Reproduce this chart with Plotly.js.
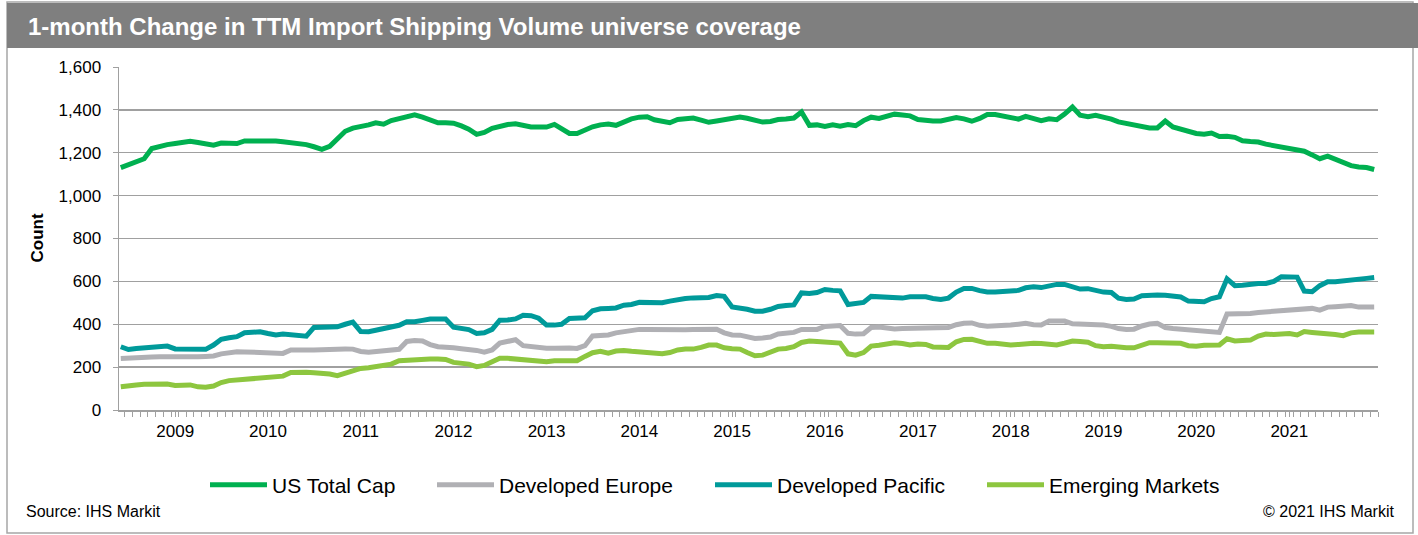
<!DOCTYPE html>
<html>
<head>
<meta charset="utf-8">
<script src="https://cdn.plot.ly/plotly-3.0.1.min.js"></script>
<style>html,body{margin:0;padding:0;background:#fff;}#chart{width:1418px;height:535px;}</style>
</head>
<body>
<div id="chart"></div>
<script>
// ---- data (monthly, Jun 2008 onward) ----
var startYear = 2008, startMonth = 6;
var seriesNames = ["US Total Cap", "Developed Europe", "Developed Pacific", "Emerging Markets"];
var seriesColors = ["#00b050", "#b0b0b4", "#009a9a", "#8dc63f"];
var yearLabels = ["2009","2010","2011","2012","2013","2014","2015","2016","2017","2018","2019","2020","2021"];

var usTotalCap = [1131,1146,1156,1172,1220,1232,1238,1243,1248,1253,
1248,1240,1235,1245,1246,1243,1255,1256,1253,1254,
1255,1251,1247,1240,1238,1228,1216,1230,1268,1300,
1315,1320,1330,1340,1333,1350,1360,1370,1377,1366,
1352,1340,1340,1338,1325,1310,1286,1295,1314,1325,
1332,1335,1325,1320,1320,1320,1332,1310,1290,1290,
1308,1321,1330,1334,1328,1345,1358,1366,1368,1354,
1349,1340,1355,1358,1362,1352,1342,1348,1354,1364,
1367,1361,1352,1343,1346,1355,1357,1362,1390,1328,
1330,1323,1330,1324,1332,1326,1350,1366,1360,1372,
1380,1376,1372,1355,1350,1348,1348,1356,1364,1358,
1347,1360,1378,1378,1372,1362,1357,1370,1362,1350,
1358,1354,1380,1413,1375,1368,1375,1368,1357,1344,
1337,1332,1320,1316,1316,1348,1320,1310,1296,1290,
1286,1292,1276,1277,1272,1256,1252,1250,1240,1233,
1228,1224,1216,1207,1190,1172,1184,1170,1155,1140,
1134,1131,1122];

var developedEurope = [240,243,246,247,247,248,248,244,245,247,
248,250,252,262,268,272,271,270,270,268,
265,264,280,282,280,280,282,284,286,285,
284,273,270,272,276,280,283,320,324,322,
305,295,295,290,286,283,278,270,280,312,
320,328,300,295,295,288,288,290,289,287,
300,345,345,350,360,366,372,376,376,375,
375,373,372,374,376,376,377,377,360,350,
349,340,334,336,340,355,358,362,376,376,
376,390,393,394,358,354,356,385,387,380,
378,380,381,380,378,380,382,385,398,405,
406,395,391,391,392,396,400,404,398,397,
415,417,415,402,401,401,400,396,390,380,
376,377,392,401,404,385,380,377,370,368,
368,364,362,448,448,447,450,455,458,462,
464,466,466,470,474,466,480,482,484,487,
480,480,481];

var developedPacific = [295,282,287,290,292,295,298,285,283,283,
283,283,303,330,337,342,360,365,365,357,
350,354,350,348,344,385,386,392,388,400,
410,366,365,372,381,390,395,412,412,418,
424,424,424,386,380,375,357,360,376,419,
420,425,442,440,428,396,396,400,427,427,
430,463,472,474,476,489,492,502,501,500,
500,508,517,520,523,523,525,534,530,481,
478,470,461,461,470,483,487,490,546,543,
548,562,558,556,492,498,502,530,528,528,
522,522,528,530,528,520,516,522,550,567,
567,557,551,551,553,556,558,570,575,571,
580,586,586,572,564,566,558,550,548,522,
516,518,533,536,536,535,531,527,508,505,
505,520,528,612,580,582,588,590,590,600,
622,622,620,555,552,580,598,598,603,610,
612,614,618];

var emergingMarkets = [108,110,117,120,121,120,121,114,116,117,
108,106,112,128,137,140,146,148,148,155,
158,158,175,178,176,174,172,168,160,172,
185,194,197,204,210,214,230,233,233,234,
238,238,236,222,220,214,202,208,225,241,
241,238,234,233,230,225,230,230,225,230,
250,267,274,265,275,278,274,272,268,266,
262,268,280,284,284,292,303,303,290,286,
284,268,253,256,270,284,287,295,315,322,
320,318,316,312,262,256,268,298,302,306,
314,310,303,308,306,294,292,292,318,329,
330,318,311,311,308,303,306,311,311,310,
306,303,312,322,319,316,300,295,297,292,
290,290,305,314,314,314,312,311,300,297,
302,303,303,332,322,324,326,345,354,352,
354,357,350,366,362,360,357,352,347,360,
364,364,364];

// ---- build month dates ----
function pad(n){return (n<10?'0':'')+n;}
var dates = [];
for (var i = 0; i < usTotalCap.length; i++) {
  var m = startMonth - 1 + i;
  dates.push((startYear + Math.floor(m/12)) + '-' + pad(m%12 + 1) + '-01');
}
var yearTicks = yearLabels.map(function(y){return y + '-01-01';});

var allSeries = [usTotalCap, developedEurope, developedPacific, emergingMarkets];
var legendWidths = [155, 206, 200, 175];
var traces = allSeries.map(function(s, k){
  return {x: dates, y: s, type: 'scatter', mode: 'lines', name: seriesNames[k],
    line: {color: seriesColors[k], width: 5}, legendwidth: legendWidths[k]};
});

// pixel helpers for the fixed-size canvas
var W = 1418, H = 535, L = 119, R = 40, T = 67, B = 125;
var PW = W - L - R, PH = H - T - B;
function px(x){return (x - L)/PW;}
function py(y){return (H - B - y)/PH;}

var FONT = '"Liberation Sans", Arial, sans-serif';
var layout = {
  width: W, height: H,
  margin: {l: L, r: R, t: T, b: B},
  paper_bgcolor: '#ffffff', plot_bgcolor: '#ffffff',
  font: {family: FONT, color: '#000000'},
  showlegend: true,
  title: {text: '<b>1-month Change in TTM Import Shipping Volume universe coverage</b>',
    font: {family: FONT, size: 24, color: '#ffffff'},
    xref: 'container', x: 28/W, xanchor: 'left',
    yref: 'container', y: 1 - 27/H, yanchor: 'middle'},
  xaxis: {type: 'date', range: ['2008-05-25', '2021-12-16'],
    tickvals: yearTicks, ticktext: yearLabels,
    ticks: 'outside', ticklen: 5, tickcolor: '#a0a0a0', tickwidth: 1,
    tickfont: {size: 17, family: FONT, color: '#000'},
    showgrid: false, showline: true, linecolor: '#a0a0a0', linewidth: 1.5,
    minor: {ticks: 'outside', ticklen: 5, tickcolor: '#a0a0a0', dtick: 'M1', tick0: '2008-05-16', showgrid: false},
    zeroline: false, fixedrange: true},
  yaxis: {range: [0, 1600], dtick: 200, tickformat: ',d',
    ticks: 'outside', ticklen: 5, tickcolor: '#a0a0a0', ticklabelstandoff: 8,
    tickfont: {size: 17, family: FONT, color: '#000'},
    showgrid: true, gridcolor: '#a0a0a0', gridwidth: 1.3,
    showline: true, linecolor: '#a0a0a0', linewidth: 1.5, zeroline: false, fixedrange: true},
  legend: {orientation: 'h', x: px(205), xanchor: 'left', y: py(485), yanchor: 'middle',
    font: {size: 21, family: FONT, color: '#000'}, itemwidth: 57, bgcolor: 'rgba(0,0,0,0)'},
  shapes: [
    {type: 'rect', xref: 'paper', yref: 'paper', x0: px(7), x1: px(1413), y0: py(533), y1: py(2),
      line: {color: '#a6a6a6', width: 1.5}, fillcolor: 'rgba(0,0,0,0)', layer: 'below'},
    {type: 'rect', xref: 'paper', yref: 'paper', x0: px(7), x1: px(1420), y0: py(48), y1: py(3),
      line: {width: 0}, fillcolor: '#7f7f7f', layer: 'below'}
  ],
  annotations: [
    {text: '<b>Count</b>', xref: 'paper', yref: 'paper', x: px(37), y: 0.5, textangle: -90,
      showarrow: false, font: {size: 17, family: FONT, color: '#000'}, xanchor: 'center', yanchor: 'middle'},
    {text: 'Source: IHS Markit', xref: 'paper', yref: 'paper', x: px(24), y: py(511),
      showarrow: false, xanchor: 'left', yanchor: 'middle', font: {size: 16, family: FONT, color: '#000'}},
    {text: '\u00a9 2021 IHS Markit', xref: 'paper', yref: 'paper', x: px(1397), y: py(511),
      showarrow: false, xanchor: 'right', yanchor: 'middle', font: {size: 16, family: FONT, color: '#000'}}
  ]
};

Plotly.newPlot('chart', traces, layout, {staticPlot: true, displayModeBar: false});
</script>
</body>
</html>
